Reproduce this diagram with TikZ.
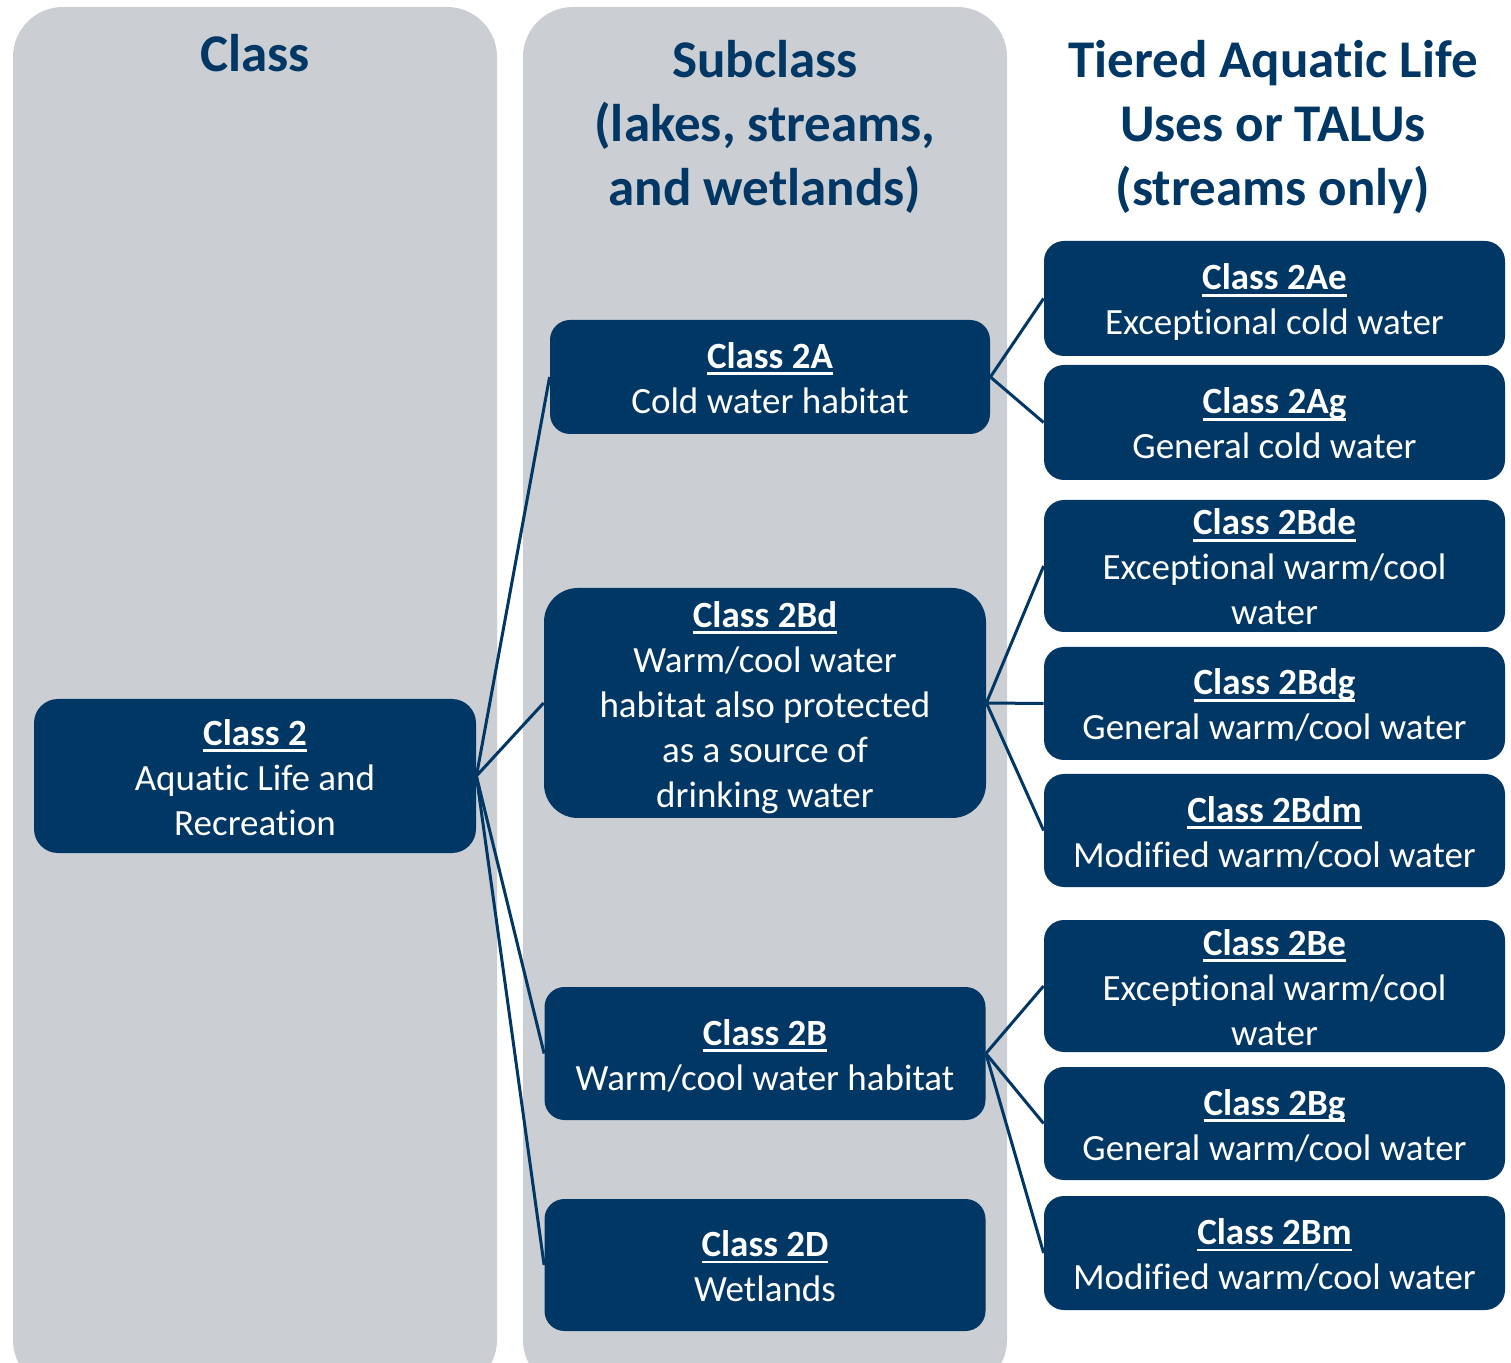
\documentclass[tikz,border=0pt]{standalone}
\usepackage{fontspec}
\setmainfont[Ligatures=NoCommon]{Carlito}
\definecolor{navy}{RGB}{0,55,100}
\definecolor{panelgray}{RGB}{203,206,211}
\newcommand\bodyfont{\fontsize{18.5}{22.5}\selectfont}
\newcommand\hdrfont{\fontsize{26.5}{32}\selectfont\bfseries}
\newcommand\ulhead[1]{\rule{0pt}{17.5pt}\setbox0\hbox{\bfseries #1}\rlap{\rule[-3.3pt]{\wd0}{1.3pt}}\box0}
\newcommand\lastln{\rule[-3.5pt]{0pt}{3.5pt}}
\tikzset{
  panel/.style={fill=panelgray, rounded corners=25pt},
  box/.style={fill=navy, text=white, rounded corners=10pt, inner sep=0pt, align=center, font=\bodyfont},
  hdr/.style={text=navy, font=\hdrfont, align=center, inner sep=0pt},
  link/.style={draw=navy, line width=1.5pt},
}
\begin{document}
\begin{tikzpicture}[x=0.5pt, y=-0.5pt]
\useasboundingbox (0,0) rectangle (1511,1363);
\clip (0,0) rectangle (1511,1363);
\fill[white] (0,0) rectangle (1511,1363);
% panels
\path[panel] (13,7) rectangle (497,1390);
\path[panel] (523,7) rectangle (1007,1390);
% headers
\node[hdr] (h1) at (255,59) {Class\strut};
\node[hdr] (h2) at (765,129) {Subclass\strut\\(lakes, streams,\strut\\and wetlands)\strut};
\node[hdr] (h3) at (1273,129) {Tiered Aquatic Life\strut\\Uses or TALUs\strut\\(streams only)\strut};
% class
\node[box, rounded corners=12pt, minimum width=221pt, minimum height=77pt] (c2) at (255,776)
  {\ulhead{Class 2}\strut\\Aquatic Life and\strut\\Recreation\lastln};
% subclasses
\node[box, minimum width=220pt, minimum height=57pt] (s2A) at (770,377)
  {\ulhead{Class 2A}\strut\\Cold water habitat\lastln};
\node[box, rounded corners=17pt, minimum width=221pt, minimum height=115pt] (s2Bd) at (765,703)
  {\ulhead{Class 2Bd}\strut\\Warm/cool water\strut\\habitat also protected\strut\\as a source of\strut\\drinking water\lastln};
\node[box, minimum width=220.5pt, minimum height=66.5pt] (s2B) at (765,1053.5)
  {\ulhead{Class 2B}\strut\\Warm/cool water habitat\lastln};
\node[box, minimum width=220.5pt, minimum height=66pt] (s2D) at (765,1265)
  {\ulhead{Class 2D}\strut\\Wetlands\lastln};
% TALUs
\node[box, minimum width=230.5pt, minimum height=57.5pt] (t2Ae) at (1274.5,298.5)
  {\ulhead{Class 2Ae}\strut\\Exceptional cold water\lastln};
\node[box, minimum width=230.5pt, minimum height=57.5pt] (t2Ag) at (1274.5,422.5)
  {\ulhead{Class 2Ag}\strut\\General cold water\lastln};
\node[box, minimum width=230.5pt, minimum height=66pt] (t2Bde) at (1274.5,566)
  {\ulhead{Class 2Bde}\strut\\Exceptional warm/cool\strut\\water\lastln};
\node[box, minimum width=230.5pt, minimum height=56.5pt] (t2Bdg) at (1274.5,703.5)
  {\ulhead{Class 2Bdg}\strut\\General warm/cool water\lastln};
\node[box, minimum width=230.5pt, minimum height=56.5pt] (t2Bdm) at (1274.5,830.5)
  {\ulhead{Class 2Bdm}\strut\\Modified warm/cool water\lastln};
\node[box, minimum width=230.5pt, minimum height=66pt] (t2Be) at (1274.5,986)
  {\ulhead{Class 2Be}\strut\\Exceptional warm/cool\strut\\water\lastln};
\node[box, minimum width=230.5pt, minimum height=56.5pt] (t2Bg) at (1274.5,1123.5)
  {\ulhead{Class 2Bg}\strut\\General warm/cool water\lastln};
\node[box, minimum width=230.5pt, minimum height=57pt] (t2Bm) at (1274.5,1253)
  {\ulhead{Class 2Bm}\strut\\Modified warm/cool water\lastln};
% connectors
\foreach \s in {s2A,s2Bd,s2B,s2D} \draw[link] (c2.east) -- (\s.west);
\foreach \t in {t2Ae,t2Ag} \draw[link] (s2A.east) -- (\t.west);
\foreach \t in {t2Bde,t2Bdg,t2Bdm} \draw[link] (s2Bd.east) -- (\t.west);
\foreach \t in {t2Be,t2Bg,t2Bm} \draw[link] (s2B.east) -- (\t.west);
\end{tikzpicture}
\end{document}
